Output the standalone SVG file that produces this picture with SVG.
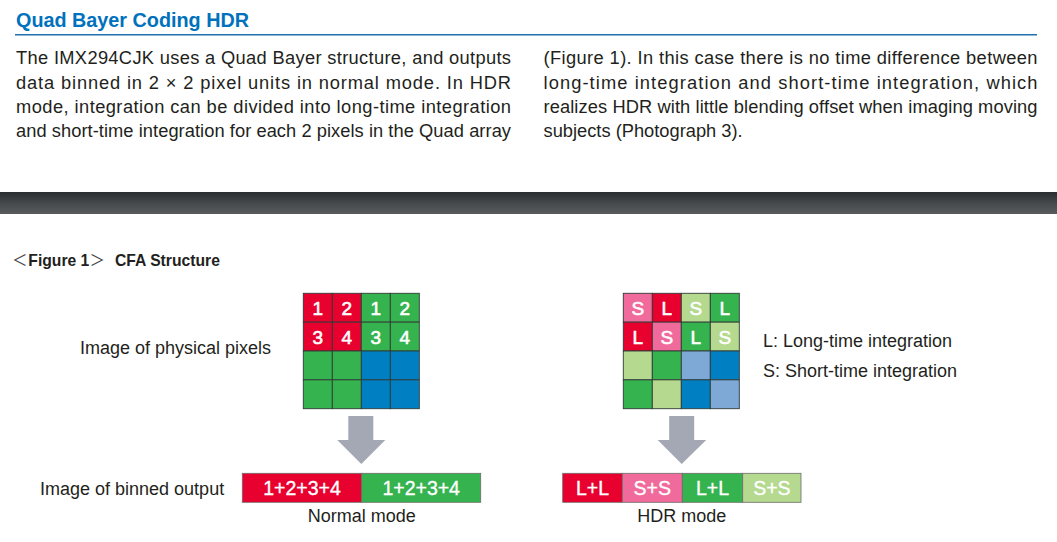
<svg xmlns="http://www.w3.org/2000/svg" width="1057" height="542" viewBox="0 0 1057 542">
<style>
  .title{font-family:"Liberation Sans",Arial,sans-serif;font-weight:bold;font-size:19.8px;fill:#0071bc}
  .body{font-family:"Liberation Sans",Arial,sans-serif;font-size:18.3px;fill:#231f20}
  .lbl{font-family:"Liberation Sans",Arial,sans-serif;font-size:18px;fill:#231f20}
  .fig{font-family:"Liberation Sans",Arial,sans-serif;font-weight:bold;font-size:15.7px;fill:#231f20}
  .br{font-family:"Noto Sans CJK JP","Noto Sans CJK SC",sans-serif;font-size:15.5px;fill:#444}
  .cell{stroke:#2f3a36;stroke-width:0.9}
  .ct{font-family:"Liberation Sans",Arial,sans-serif;font-size:19px;fill:#fff;stroke:#fff;stroke-width:0.6;text-anchor:middle}
  .bt{font-family:"Liberation Sans",Arial,sans-serif;font-size:19.5px;fill:#fff;stroke:#fff;stroke-width:0.35;text-anchor:middle}
  .seg{stroke:#6b6b6b;stroke-width:0.8}
  .R{fill:#e8002e}.G{fill:#35b34f}.B{fill:#0080c3}.P{fill:#f06b9b}.LG{fill:#b4d98f}.LB{fill:#7ea8d5}
  .arrow{fill:#a3a8b4}
</style>
<defs>
  <linearGradient id="band" x1="0" y1="0" x2="0" y2="1">
    <stop offset="0" stop-color="#2a2d30"/>
    <stop offset="0.5" stop-color="#45494c"/>
    <stop offset="1" stop-color="#585c5f"/>
  </linearGradient>
</defs>
<rect width="1057" height="542" fill="#fff"/>

<g id="header">
  <text class="title" x="16" y="27">Quad Bayer Coding HDR</text>
  <line x1="15" y1="34.8" x2="1037" y2="34.8" stroke="#1f6fae" stroke-width="1.4"/>
  <text class="body" x="16" y="64.2" textLength="495" lengthAdjust="spacing">The IMX294CJK uses a Quad Bayer structure, and outputs</text>
  <text class="body" x="16" y="88.5" textLength="495" lengthAdjust="spacing">data binned in 2 × 2 pixel units in normal mode. In HDR</text>
  <text class="body" x="16" y="112.7" textLength="495" lengthAdjust="spacing">mode, integration can be divided into long-time integration</text>
  <text class="body" x="16" y="137" textLength="495" lengthAdjust="spacing">and short-time integration for each 2 pixels in the Quad array</text>
  <text class="body" x="543.5" y="64.2" textLength="494" lengthAdjust="spacing">(Figure 1). In this case there is no time difference between</text>
  <text class="body" x="543.5" y="88.5" textLength="494" lengthAdjust="spacing">long-time integration and short-time integration, which</text>
  <text class="body" x="543.5" y="112.7" textLength="494" lengthAdjust="spacing">realizes HDR with little blending offset when imaging moving</text>
  <text class="body" x="543.5" y="137">subjects (Photograph 3).</text>
  <rect x="0" y="192" width="1057" height="22" fill="url(#band)"/>
</g>

<g id="figure-title">
  <text class="br" x="12" y="266">＜</text>
  <text class="fig" x="28.3" y="266">Figure 1</text>
  <text class="br" x="89.5" y="266">＞</text>
  <text class="fig" x="115" y="266">CFA Structure</text>
</g>

<g id="label-physical">
  <text class="lbl" x="80" y="354">Image of physical pixels</text>
</g>
<g id="label-binned">
  <text class="lbl" x="40" y="495">Image of binned output</text>
</g>
<g id="legend">
  <text class="lbl" x="763" y="346.5">L: Long-time integration</text>
  <text class="lbl" x="763" y="376.5">S: Short-time integration</text>
</g>

<g id="grid-physical">
  <rect class="cell R" x="303.3" y="293.3" width="29" height="28.85"/>
  <rect class="cell R" x="332.3" y="293.3" width="29" height="28.85"/>
  <rect class="cell G" x="361.3" y="293.3" width="29" height="28.85"/>
  <rect class="cell G" x="390.3" y="293.3" width="29" height="28.85"/>
  <rect class="cell R" x="303.3" y="322.15" width="29" height="28.85"/>
  <rect class="cell R" x="332.3" y="322.15" width="29" height="28.85"/>
  <rect class="cell G" x="361.3" y="322.15" width="29" height="28.85"/>
  <rect class="cell G" x="390.3" y="322.15" width="29" height="28.85"/>
  <rect class="cell G" x="303.3" y="351" width="29" height="28.85"/>
  <rect class="cell G" x="332.3" y="351" width="29" height="28.85"/>
  <rect class="cell B" x="361.3" y="351" width="29" height="28.85"/>
  <rect class="cell B" x="390.3" y="351" width="29" height="28.85"/>
  <rect class="cell G" x="303.3" y="379.85" width="29" height="28.85"/>
  <rect class="cell G" x="332.3" y="379.85" width="29" height="28.85"/>
  <rect class="cell B" x="361.3" y="379.85" width="29" height="28.85"/>
  <rect class="cell B" x="390.3" y="379.85" width="29" height="28.85"/>
  <text class="ct" x="317.8" y="315">1</text>
  <text class="ct" x="346.8" y="315">2</text>
  <text class="ct" x="375.8" y="315">1</text>
  <text class="ct" x="404.8" y="315">2</text>
  <text class="ct" x="317.8" y="343.8">3</text>
  <text class="ct" x="346.8" y="343.8">4</text>
  <text class="ct" x="375.8" y="343.8">3</text>
  <text class="ct" x="404.8" y="343.8">4</text>
</g>

<g id="grid-hdr">
  <rect class="cell P" x="623.3" y="293.3" width="29" height="28.85"/>
  <rect class="cell R" x="652.3" y="293.3" width="29" height="28.85"/>
  <rect class="cell LG" x="681.3" y="293.3" width="29" height="28.85"/>
  <rect class="cell G" x="710.3" y="293.3" width="29" height="28.85"/>
  <rect class="cell R" x="623.3" y="322.15" width="29" height="28.85"/>
  <rect class="cell P" x="652.3" y="322.15" width="29" height="28.85"/>
  <rect class="cell G" x="681.3" y="322.15" width="29" height="28.85"/>
  <rect class="cell LG" x="710.3" y="322.15" width="29" height="28.85"/>
  <rect class="cell LG" x="623.3" y="351" width="29" height="28.85"/>
  <rect class="cell G" x="652.3" y="351" width="29" height="28.85"/>
  <rect class="cell LB" x="681.3" y="351" width="29" height="28.85"/>
  <rect class="cell B" x="710.3" y="351" width="29" height="28.85"/>
  <rect class="cell G" x="623.3" y="379.85" width="29" height="28.85"/>
  <rect class="cell LG" x="652.3" y="379.85" width="29" height="28.85"/>
  <rect class="cell B" x="681.3" y="379.85" width="29" height="28.85"/>
  <rect class="cell LB" x="710.3" y="379.85" width="29" height="28.85"/>
  <text class="ct" x="637.8" y="315">S</text>
  <text class="ct" x="666.8" y="315">L</text>
  <text class="ct" x="695.8" y="315">S</text>
  <text class="ct" x="724.8" y="315">L</text>
  <text class="ct" x="637.8" y="343.8">L</text>
  <text class="ct" x="666.8" y="343.8">S</text>
  <text class="ct" x="695.8" y="343.8">L</text>
  <text class="ct" x="724.8" y="343.8">S</text>
</g>

<g id="connectors">
  <polygon class="arrow" points="348.3,416 373.3,416 373.3,440 385.3,440 361.3,464 337.3,440 348.3,440"/>
  <polygon class="arrow" points="669.2,416 694.2,416 694.2,440 706.2,440 681.7,464 657.7,440 669.2,440"/>
</g>

<g id="bar-normal">
  <rect class="seg R" x="242.3" y="473.3" width="119.4" height="29"/>
  <rect class="seg G" x="361.7" y="473.3" width="119" height="29"/>
  <text class="bt" x="302" y="495">1+2+3+4</text>
  <text class="bt" x="421.2" y="495">1+2+3+4</text>
  <text class="lbl" x="361.7" y="521.5" text-anchor="middle">Normal mode</text>
</g>

<g id="bar-hdr">
  <rect class="seg R" x="562.7" y="473.3" width="59.6" height="29"/>
  <rect class="seg P" x="622.3" y="473.3" width="60" height="29"/>
  <rect class="seg G" x="682.3" y="473.3" width="60.4" height="29"/>
  <rect class="seg LG" x="742.7" y="473.3" width="58.3" height="29"/>
  <text class="bt" x="592.5" y="495">L+L</text>
  <text class="bt" x="652.3" y="495">S+S</text>
  <text class="bt" x="712.5" y="495">L+L</text>
  <text class="bt" x="771.9" y="495">S+S</text>
  <text class="lbl" x="681.7" y="521.5" text-anchor="middle">HDR mode</text>
</g>
</svg>
